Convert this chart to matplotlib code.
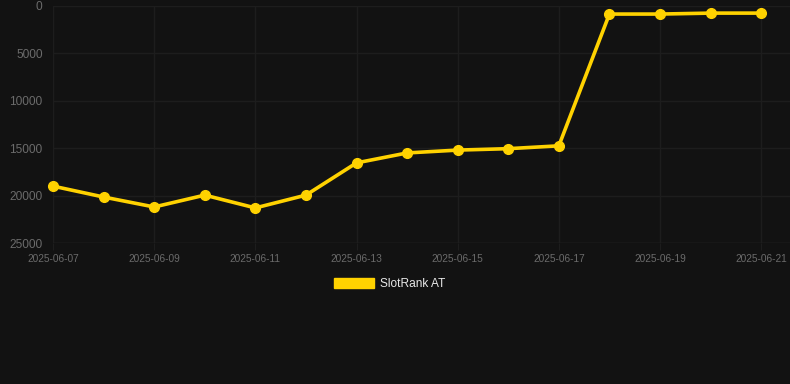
import numpy as np
import pandas as pd
import matplotlib
matplotlib.use('Agg')
import matplotlib.pyplot as plt
import matplotlib.dates as mdates
from matplotlib.patches import Patch

# data (rank, lower is better -> axis reversed)
dates = pd.date_range('2025-06-07', '2025-06-21', freq='D')
rank = [19000, 20150, 21200, 19950, 21300, 19950, 16550, 15500, 15200, 15050, 14750,
        850, 850, 750, 750]
series_name = 'SlotRank AT'
y_ticks = [0, 5000, 10000, 15000, 20000, 25000]

bg = '#121212'
gold = '#FFD200'
grid_col = '#1d1d1d'
tick_col = '#6b6b6b'

plt.rcParams['font.family'] = ['Liberation Sans', 'DejaVu Sans']

fig = plt.figure(figsize=(7.9, 3.84), dpi=100, facecolor=bg)
ax = fig.add_axes([53/790, 1 - 243/384, 1 - 53/790, 237/384])
ax.set_facecolor(bg)

ax.plot(dates, rank, color=gold, linewidth=2.6, marker='o', markersize=7,
        markerfacecolor=gold, markeredgecolor=gold, zorder=3, clip_on=False)

ax.set_ylim(25000, 0)
ax.set_yticks(y_ticks)
ax.set_yticklabels([str(v) for v in y_ticks])
ax.set_xlim(dates[0], dates[0] + pd.Timedelta(days=14.57))
xt = dates[::2]
ax.set_xticks(xt)
ax.set_xticklabels([d.strftime('%Y-%m-%d') for d in xt])

ax.grid(True, color=grid_col, linewidth=1)
for s in ax.spines.values():
    s.set_visible(False)
ax.axhline(25000, color='#282828', linewidth=1, zorder=1)
ax.tick_params(axis='y', length=0, pad=7.5, labelsize=8.6, labelcolor=tick_col)
ax.tick_params(axis='x', length=5, color=grid_col, pad=3, labelsize=7.3, labelcolor=tick_col)

handle = Patch(facecolor=gold, edgecolor=gold)
fig.legend([handle], [series_name], loc='center', bbox_to_anchor=(390/790, 1 - 284/384),
           frameon=False, fontsize=8.6, labelcolor='#e8e8e8', handlelength=3.35,
           handleheight=0.9, handletextpad=0.5)

fig.savefig('out.png', dpi=100, facecolor=bg)
